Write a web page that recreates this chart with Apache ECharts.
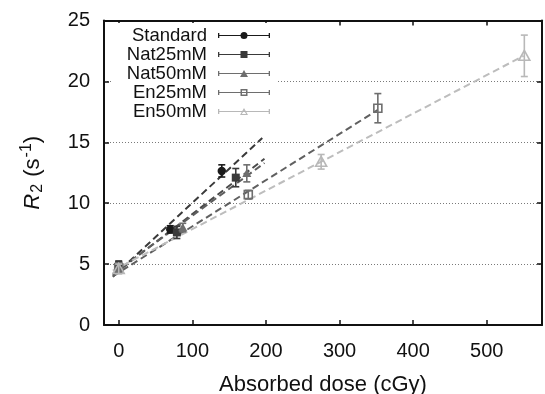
<!DOCTYPE html>
<html>
<head>
<meta charset="utf-8">
<script src="https://cdn.jsdelivr.net/npm/echarts@6/dist/echarts.min.js"></script>
<style>html,body{margin:0;padding:0;background:#fff}#chart{width:545px;height:394px}</style>
</head>
<body>
<div id="chart"></div>
<script>
// ---- data ----
const seriesNames = ['Standard', 'Nat25mM', 'Nat50mM', 'En25mM', 'En50mM'];

const standardDose = [0, 70, 140];
const standardR2   = [4.9, 7.85, 12.65];
const standardErr  = [0.35, 0.3, 0.5];

const nat25Dose = [0, 79, 159];
const nat25R2   = [4.8, 7.6, 12.1];
const nat25Err  = [0.4, 0.5, 0.75];

const nat50Dose = [0, 87, 174];
const nat50R2   = [4.7, 8.0, 12.45];
const nat50Err  = [0.35, 0.35, 0.7];

const en25Dose = [0, 176, 352];
const en25R2   = [4.7, 10.7, 17.8];
const en25Err  = [0.4, 0.35, 1.2];

const en50Dose = [0, 275, 551];
const en50R2   = [4.6, 13.4, 22.1];
const en50Err  = [0.4, 0.6, 1.7];

// fitted dashed lines: start / end points
const fitStartDose = [-8, -8, -8, -8, -8];
const fitStartR2   = [3.97, 4.1, 4.2, 4.0, 4.46];
const fitEndDose   = [195, 198, 198, 352, 550];
const fitEndR2     = [15.35, 13.65, 13.3, 17.66, 22.1];

const xTicks = [0, 100, 200, 300, 400, 500];
const yTicks = [0, 5, 10, 15, 20, 25];

// ---- styling ----
const pointColors = ['#1a1a1a', '#3a3a3a', '#6e6e6e', '#6e6e6e', '#b8b8b8'];
const lineColors  = ['#3a3a3a', '#4a4a4a', '#5e5e5e', '#606060', '#bdbdbd'];
const markerKinds = ['circle', 'square', 'triangle', 'squareOpen', 'triangleOpen'];
const FONT = '"Liberation Sans", Arial, Helvetica, sans-serif';

const pts = [
  [standardDose, standardR2, standardErr],
  [nat25Dose, nat25R2, nat25Err],
  [nat50Dose, nat50R2, nat50Err],
  [en25Dose, en25R2, en25Err],
  [en50Dose, en50R2, en50Err]
];

const barPart = 'M0 1H1.3V6H0Z M50.7 1H52V6H50.7Z M0 2.9H52V4.1H0Z ';
const iconPaths = {
  circle: barPart + 'M22.5 3.5A3.5 3.5 0 1 1 29.5 3.5A3.5 3.5 0 1 1 22.5 3.5Z',
  square: barPart + 'M22.5 0H29.5V7H22.5Z',
  triangle: barPart + 'M26 0L30 7L22 7Z',
  squareOpen: barPart + 'M22.5 0H29.5V7H22.5Z M24 1.5V5.5H28V1.5Z',
  triangleOpen: barPart + 'M26 0L30 7L22 7Z M26 2.4L23.8 6H28.2Z'
};

function makeRenderItem(kind, color) {
  return function (params, api) {
    const x = api.value(0), y = api.value(1), e = api.value(2);
    const c = api.coord([x, y]);
    const top = api.coord([x, y + e]);
    const bot = api.coord([x, y - e]);
    const cap = 3.5;
    const ls = { stroke: color, lineWidth: 1.6, fill: null };
    const children = [
      { type: 'line', shape: { x1: c[0], y1: top[1], x2: c[0], y2: bot[1] }, style: ls },
      { type: 'line', shape: { x1: c[0] - cap, y1: top[1], x2: c[0] + cap, y2: top[1] }, style: ls },
      { type: 'line', shape: { x1: c[0] - cap, y1: bot[1], x2: c[0] + cap, y2: bot[1] }, style: ls }
    ];
    const s = 4.5;
    if (kind === 'circle') {
      children.push({ type: 'circle', shape: { cx: c[0], cy: c[1], r: 4.2 }, style: { fill: color } });
    } else if (kind === 'square') {
      children.push({ type: 'rect', shape: { x: c[0] - 4, y: c[1] - 4, width: 8, height: 8 }, style: { fill: color } });
    } else if (kind === 'triangle') {
      children.push({ type: 'polygon', shape: { points: [[c[0], c[1] - s], [c[0] + s, c[1] + s * 0.8], [c[0] - s, c[1] + s * 0.8]] }, style: { fill: color } });
    } else if (kind === 'squareOpen') {
      children.push({ type: 'rect', shape: { x: c[0] - 4, y: c[1] - 4, width: 8, height: 8 }, style: { fill: null, stroke: color, lineWidth: 1.6 } });
    } else {
      children.push({ type: 'polygon', shape: { points: [[c[0], c[1] - s - 1], [c[0] + s + 1, c[1] + s], [c[0] - s - 1, c[1] + s]] }, style: { fill: null, stroke: color, lineWidth: 1.6 } });
    }
    return { type: 'group', children: children };
  };
}

const series = [];
for (let i = 0; i < seriesNames.length; i++) {
  series.push({
    name: seriesNames[i] + ' fit',
    type: 'line',
    data: [[fitStartDose[i], fitStartR2[i]], [fitEndDose[i], fitEndR2[i]]],
    showSymbol: false,
    silent: true,
    z: 2,
    lineStyle: { color: lineColors[i], width: 2, type: [7, 4] },
    itemStyle: { color: lineColors[i] }
  });
}
for (let i = 0; i < seriesNames.length; i++) {
  const d = pts[i][0].map((x, k) => [x, pts[i][1][k], pts[i][2][k]]);
  series.push({
    name: seriesNames[i],
    type: 'custom',
    data: d,
    encode: { x: 0, y: 1 },
    z: 3,
    itemStyle: { color: pointColors[i] },
    renderItem: makeRenderItem(markerKinds[i], pointColors[i])
  });
}

const axisLineStyle = { color: '#111', width: 2 };
const chart = echarts.init(document.getElementById('chart'), null, { renderer: 'canvas' });
chart.setOption({
  animation: false,
  backgroundColor: '#fff',
  textStyle: { fontFamily: FONT },
  grid: { left: 104, right: 3, top: 20.5, bottom: 69, containLabel: false, outerBoundsMode: 'none' },
  legend: {
    orient: 'vertical',
    align: 'right',
    right: 267,
    top: 23,
    padding: [3, 8, 3, 14],
    backgroundColor: '#fff',
    itemWidth: 52,
    itemHeight: 7,
    itemGap: 0,
    selectedMode: false,
    textStyle: { fontSize: 18.5, color: '#111', fontFamily: FONT, lineHeight: 18.75, padding: [0, 6, 0, 0] },
    data: seriesNames.map((n, i) => ({ name: n, icon: 'path://' + iconPaths[markerKinds[i]] }))
  },
  xAxis: [{
    type: 'value', position: 'bottom', min: -20, max: 575,
    name: 'Absorbed dose (cGy)', nameLocation: 'middle', nameGap: 49,
    nameTextStyle: { fontSize: 22, color: '#111', fontFamily: FONT },
    axisLine: { show: true, onZero: false, lineStyle: axisLineStyle },
    axisTick: { show: true, inside: true, length: 5, customValues: xTicks, lineStyle: { color: '#111', width: 1.5 } },
    axisLabel: { show: true, customValues: xTicks, margin: 16, fontSize: 20, color: '#111', fontFamily: FONT },
    splitLine: { show: false }
  }, {
    type: 'value', position: 'top', min: -20, max: 575,
    axisLine: { show: true, onZero: false, lineStyle: axisLineStyle },
    axisTick: { show: true, inside: true, length: 5, customValues: xTicks, lineStyle: { color: '#111', width: 1.5 } },
    axisLabel: { show: false },
    splitLine: { show: false }
  }],
  yAxis: [{
    type: 'value', position: 'left', min: 0, max: 25, interval: 5,
    name: '{i|R}{sub|2}{n| (s}{sup|-1}{n|)}', nameLocation: 'middle', nameGap: 58, nameRotate: 90,
    nameTextStyle: {
      fontSize: 22, color: '#111', fontFamily: FONT,
      rich: {
        i: { fontSize: 22, fontStyle: 'italic', color: '#111', fontFamily: FONT },
        n: { fontSize: 22, color: '#111', fontFamily: FONT },
        sub: { fontSize: 16, color: '#111', fontFamily: FONT, padding: [11, 1, 0, 1] },
        sup: { fontSize: 16, color: '#111', fontFamily: FONT, padding: [0, 0, 11, 1] }
      }
    },
    axisLine: { show: true, onZero: false, lineStyle: axisLineStyle },
    axisTick: { show: true, inside: true, length: 5, customValues: yTicks, lineStyle: { color: '#111', width: 1.5 } },
    axisLabel: { show: true, customValues: yTicks, margin: 14, fontSize: 20, color: '#111', fontFamily: FONT },
    splitLine: { show: true, lineStyle: { color: '#7a7a7a', width: 1, type: [1, 2] } }
  }, {
    type: 'value', position: 'right', min: 0, max: 25, interval: 5,
    axisLine: { show: true, onZero: false, lineStyle: axisLineStyle },
    axisTick: { show: true, inside: true, length: 5, customValues: yTicks, lineStyle: { color: '#111', width: 1.5 } },
    axisLabel: { show: false },
    splitLine: { show: false }
  }],
  series: series
});
</script>
</body>
</html>
